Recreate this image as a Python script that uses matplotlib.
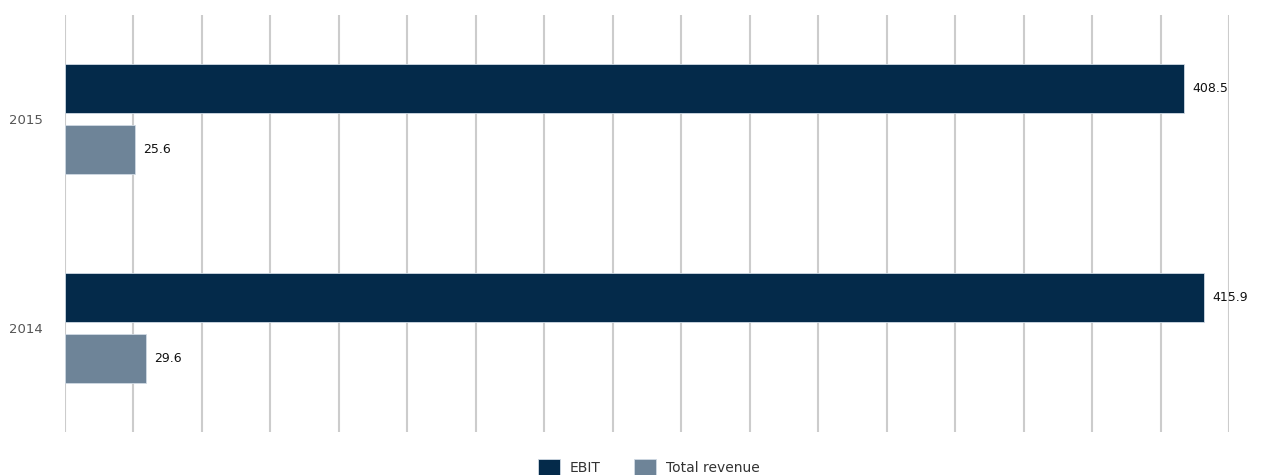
import matplotlib.pyplot as plt
import numpy as np

years = ["2015", "2014"]
ebit = [408.5, 415.9]
total_revenue = [25.6, 29.6]

ebit_color = "#042a4a"
rev_color = "#6e8498"

fig = plt.figure(figsize=(12.87, 4.75), dpi=100)
ax = fig.add_axes([65 / 1287, 1 - 432 / 475, 1164 / 1287, 417 / 475])

y = np.arange(len(years))
h = 0.235
off = 0.147

ax.barh(y - off, ebit, height=h, color=ebit_color, edgecolor="#d0dae4", linewidth=0.6, label="EBIT")
ax.barh(y + off, total_revenue, height=h, color=rev_color, edgecolor="#d0dae4", linewidth=0.6, label="Total revenue")

for yi, v in zip(y - off, ebit):
    ax.annotate(f"{v}", (v, yi), xytext=(6, 0), textcoords="offset points",
                va="center", ha="left", fontsize=9, color="#111111")
for yi, v in zip(y + off, total_revenue):
    ax.annotate(f"{v}", (v, yi), xytext=(6, 0), textcoords="offset points",
                va="center", ha="left", fontsize=9, color="#111111")

ax.set_xlim(0, 425)
ax.set_ylim(1.5, -0.5)
ax.set_xticks(np.arange(0, 426, 25))
ax.set_xticklabels([])
ax.set_yticks(y)
ax.set_yticklabels(years, color="#555555", fontsize=9.5)
ax.tick_params(axis="both", length=0)
ax.tick_params(axis="y", pad=16)
ax.grid(axis="x", color="#cccccc", linewidth=1.5)
ax.set_axisbelow(True)
for s in ax.spines.values():
    s.set_visible(False)

fig.legend(loc="center", bbox_to_anchor=(0.504, 8 / 475), ncol=2, frameon=False,
           fontsize=10, handlelength=1.6, handleheight=1.4, columnspacing=2.4,
           handletextpad=0.7, labelcolor="#333333")

fig.savefig("out.png", dpi=100)
